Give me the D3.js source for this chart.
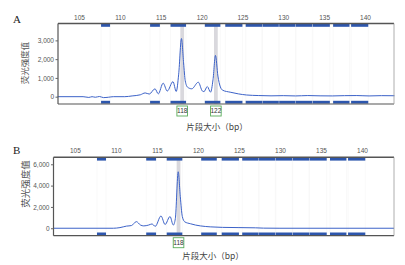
<!DOCTYPE html>
<html>
<head>
<meta charset="utf-8">
<script src="https://cdn.jsdelivr.net/npm/d3@7"></script>
<style>
  body { margin: 0; background: #fff; }
  text { font-family: "Liberation Sans", Arial, sans-serif; }
</style>
</head>
<body>
<div id="chart"></div>
<script>
// tick labels on the top axis (bp)
const xTicks = [105, 110, 115, 120, 125, 130, 135, 140];

// bin markers (bp)
const binStart = [107.7, 113.7, 116.2, 120.4, 122.9, 125.4, 127.45, 129.5, 131.55, 133.6, 136.1, 138.3];
const binEnd   = [108.8, 114.9, 118.1, 122.3, 125.0, 127.4, 129.45, 131.5, 133.55, 135.7, 138.1, 140.4];

// panel A trace
const sizeA = [102.4, 105.5, 106.2, 106.6, 107.0, 107.5, 108.0, 108.6, 109.2, 110.6, 111.5, 112.5, 113.1, 113.6,
  114.3, 114.7, 115.3, 115.8, 116.5, 116.9, 117.2, 117.54, 117.8, 118.0, 118.3, 118.8, 119.6, 120.1, 120.3,
  120.7, 121.1, 121.4, 121.7, 122.0, 122.3, 122.6, 123.5, 124.5, 125.5, 127, 128.5, 130, 131.5, 133, 134.5,
  136, 137.5, 139, 140.5, 142, 143.6];
const rfuA = [0, 0, -40, 0, -30, 10, -50, -30, 0, 0, 40, 100, 200, 140,
  420, 150, 720, 300, 800, 280, 1200, 3100, 1800, 850, 500, 420, 770, 300, 270,
  540, 240, 900, 2200, 1100, 520, 340, 240, 150, 90, 60, 45, 55, 40, 60, 45,
  40, 55, 60, 40, 55, 50];

// panel B trace
const sizeB = [102.4, 109.7, 110.5, 111.3, 111.9, 112.5, 113.0, 113.4, 114.0, 114.4, 114.8, 115.5, 116.0, 116.6,
  117.0, 117.25, 117.6, 117.85, 118.1, 118.4, 119.1, 119.7, 120.3, 121.5, 123, 125, 127, 128, 130, 143.9];
const rfuB = [0, 0, 60, 200, 250, 620, 300, 220, 300, 400, 180, 1150, 350, 1100,
  300, 900, 5300, 3000, 1100, 600, 420, 300, 220, 130, 80, 60, 40, 10, 0, 0];

// called peaks
const peaksA = [117.63, 121.75];
const peakLabelsA = ["118", "122"];
const peaksB = [117.64];
const peakLabelsB = ["118"];

const yTicksA = [0, 1000, 2000, 3000];
const yTicksB = [0, 2000, 4000, 6000];

const W = 405, H = 265;
const svg = d3.select("#chart").append("svg")
  .attr("width", W).attr("height", H);

function drawPanel(p) {
  const g = svg.append("g");
  const x = d3.scaleLinear().domain(p.xDomain).range([p.left, p.right]);
  const y = d3.scaleLinear().domain(p.yDomain).range([p.bottom, p.top]);

  // faint bin guide lines
  g.selectAll(".guide").data(binStart.concat(binEnd)).enter().append("line")
    .attr("x1", d => x(d)).attr("x2", d => x(d))
    .attr("y1", p.top).attr("y2", p.bottom)
    .attr("stroke", "#f6f6f6").attr("stroke-width", 0.7);

  // grey peak bands
  g.selectAll(".band").data(p.peaks).enter().append("rect")
    .attr("x", d => x(d - 0.23)).attr("width", d => x(d + 0.23) - x(d - 0.23))
    .attr("y", p.top).attr("height", p.bottom - p.top)
    .attr("fill", "#d9d8dd");

  // bin bars top and bottom
  const bins = d3.zip(binStart, binEnd);
  [p.top + 0.5, p.bottom - 3.2].forEach(yy => {
    g.selectAll(null).data(bins).enter().append("rect")
      .attr("x", d => x(d[0])).attr("width", d => x(d[1]) - x(d[0]))
      .attr("y", yy).attr("height", 2.8)
      .attr("fill", "#2d56ad");
  });

  // trace
  const line = d3.line()
    .x((d, i) => x(p.sizes[i]))
    .y(d => y(d))
    .curve(d3.curveMonotoneX);
  g.append("path")
    .attr("d", line(p.values))
    .attr("fill", "none")
    .attr("stroke", "#3c62c8")
    .attr("stroke-width", 1);

  // frame
  g.append("line").attr("x1", p.left).attr("x2", p.right).attr("y1", p.top).attr("y2", p.top)
    .attr("stroke", "#555").attr("stroke-width", 1.6);
  g.append("line").attr("x1", p.left).attr("x2", p.right).attr("y1", p.bottom).attr("y2", p.bottom)
    .attr("stroke", "#555").attr("stroke-width", 1.2);
  g.append("line").attr("x1", p.left).attr("x2", p.left).attr("y1", p.top).attr("y2", p.bottom)
    .attr("stroke", "#555").attr("stroke-width", 1.2);
  g.append("line").attr("x1", p.right).attr("x2", p.right).attr("y1", p.top).attr("y2", p.bottom)
    .attr("stroke", "#999").attr("stroke-width", 0.8);

  // top axis
  const xAxis = d3.axisTop(x).tickValues(xTicks).tickSize(0).tickPadding(4);
  const ga = g.append("g").attr("transform", "translate(0," + p.top + ")").call(xAxis);
  ga.select(".domain").remove();
  ga.selectAll("text").attr("font-size", 6.5).attr("fill", "#555");

  // left axis
  const yAxis = d3.axisLeft(y).tickValues(p.yTicks).tickSize(2.5).tickPadding(1.5).tickFormat(d3.format(","));
  const gy = g.append("g").attr("transform", "translate(" + p.left + ",0)").call(yAxis);
  gy.select(".domain").remove();
  gy.selectAll("line").attr("stroke", "#666");
  gy.selectAll("text").attr("font-size", 6.5).attr("fill", "#555");

  // peak labels
  const lab = g.selectAll(".lab").data(p.peaks).enter().append("g")
    .attr("transform", d => "translate(" + x(d) + "," + (p.bottom + 7) + ")");
  lab.append("rect").attr("x", -5.3).attr("y", -5).attr("width", 10.6).attr("height", 10)
    .attr("fill", "#fff").attr("stroke", "#5aac5a").attr("stroke-width", 0.9);
  lab.append("text").attr("text-anchor", "middle").attr("dy", "0.35em")
    .attr("font-size", 6.5).attr("fill", "#333")
    .text((d, i) => p.labels[i]);

  // axis titles
  g.append("text").attr("x", p.xTitleX).attr("y", p.xTitleY)
    .attr("text-anchor", "middle").attr("font-size", 8.5).attr("fill", "#444")
    .style("font-family", "'Noto Sans CJK SC', sans-serif")
    .text("片段大小（bp）");
  g.append("text")
    .attr("transform", "translate(" + p.yTitleX + "," + p.yTitleY + ") rotate(-90)")
    .attr("text-anchor", "middle").attr("font-size", p.yTitleSize).attr("fill", "#555")
    .style("font-family", "'Noto Sans CJK SC', sans-serif")
    .text("荧光强度值");

  // panel letter
  g.append("text").attr("x", 13).attr("y", p.letterY)
    .attr("font-size", 11).attr("fill", "#222")
    .style("font-family", "'Liberation Serif', serif")
    .text(p.letter);
}

drawPanel({
  left: 58, right: 394, top: 23.5, bottom: 104,
  xDomain: [102.43, 143.55], yDomain: [-390, 3900],
  sizes: sizeA, values: rfuA, peaks: peaksA, labels: peakLabelsA, yTicks: yTicksA,
  xTitleX: 217, xTitleY: 130, yTitleX: 28, yTitleY: 63, yTitleSize: 8.5,
  letter: "A", letterY: 22.5
});

drawPanel({
  left: 53.5, right: 394, top: 157.3, bottom: 235.7,
  xDomain: [102.4, 143.9], yDomain: [-700, 6656],
  sizes: sizeB, values: rfuB, peaks: peaksB, labels: peakLabelsB, yTicks: yTicksB,
  xTitleX: 213, xTitleY: 258.5, yTitleX: 29, yTitleY: 184, yTitleSize: 9.5,
  letter: "B", letterY: 153.5
});
</script>
</body>
</html>
